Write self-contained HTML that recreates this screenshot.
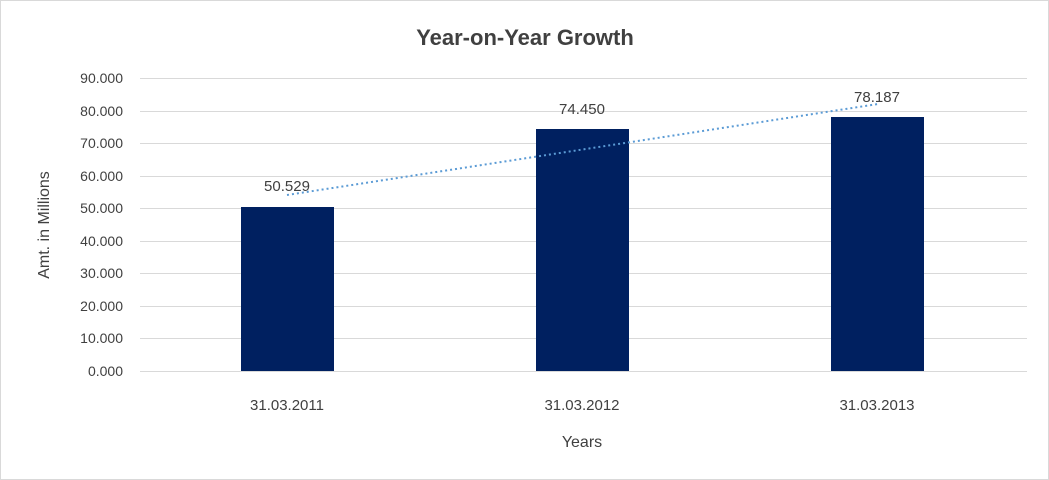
<!DOCTYPE html>
<html><head><meta charset="utf-8"><style>
html,body{margin:0;padding:0;background:#fff;}
svg{display:block;}
text{font-family:"Liberation Sans",sans-serif;fill:#404040;}
</style></head><body>
<svg width="1049" height="480" viewBox="0 0 1049 480" xmlns="http://www.w3.org/2000/svg">
<rect x="0.5" y="0.5" width="1048" height="479" fill="#fff" stroke="#d9d9d9"/>
<text x="525" y="45" text-anchor="middle" font-size="22" font-weight="bold" fill="#404040">Year-on-Year Growth</text>
<g stroke="#d9d9d9" stroke-width="1">
<line x1="140" y1="78.5" x2="1027" y2="78.5"/>
<line x1="140" y1="111.5" x2="1027" y2="111.5"/>
<line x1="140" y1="143.5" x2="1027" y2="143.5"/>
<line x1="140" y1="176.5" x2="1027" y2="176.5"/>
<line x1="140" y1="208.5" x2="1027" y2="208.5"/>
<line x1="140" y1="241.5" x2="1027" y2="241.5"/>
<line x1="140" y1="273.5" x2="1027" y2="273.5"/>
<line x1="140" y1="306.5" x2="1027" y2="306.5"/>
<line x1="140" y1="338.5" x2="1027" y2="338.5"/>
<line x1="140" y1="371.5" x2="1027" y2="371.5"/>
</g>
<g font-size="14" text-anchor="end">
<text x="123" y="83">90.000</text>
<text x="123" y="116">80.000</text>
<text x="123" y="148">70.000</text>
<text x="123" y="181">60.000</text>
<text x="123" y="213">50.000</text>
<text x="123" y="246">40.000</text>
<text x="123" y="278">30.000</text>
<text x="123" y="311">20.000</text>
<text x="123" y="343">10.000</text>
<text x="123" y="376">0.000</text>
</g>
<g fill="#002060">
<rect x="241" y="207" width="93" height="164"/>
<rect x="536" y="129" width="93" height="242"/>
<rect x="831" y="117" width="93" height="254"/>
</g>
<line x1="287" y1="195" x2="878" y2="104" stroke="#5b9bd5" stroke-width="2" stroke-dasharray="2,3"/>
<g font-size="15" text-anchor="middle">
<text x="287" y="191" fill="#000">50.529</text>
<text x="582" y="114" fill="#000">74.450</text>
<text x="877" y="102" fill="#000">78.187</text>
</g>
<g font-size="15" text-anchor="middle">
<text x="287" y="410">31.03.2011</text>
<text x="582" y="410">31.03.2012</text>
<text x="877" y="410">31.03.2013</text>
<text x="582" y="447" font-size="16">Years</text>
</g>
<text x="0" y="0" font-size="16" text-anchor="middle" transform="translate(49,225) rotate(-90)">Amt. in Millions</text>
</svg>
</body></html>
